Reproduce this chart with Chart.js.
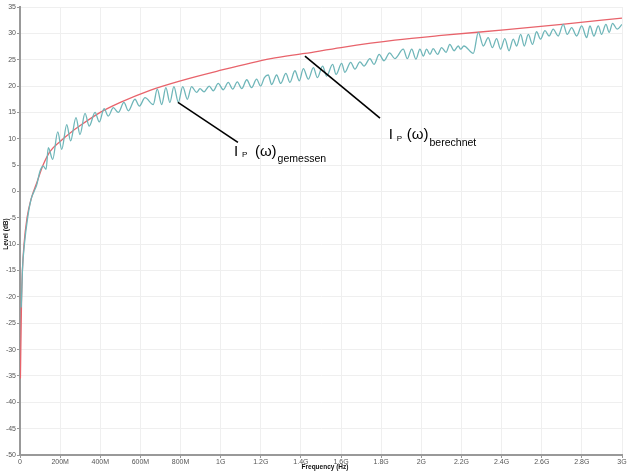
<!DOCTYPE html>
<html>
<head>
<meta charset="utf-8">
<script src="https://cdn.jsdelivr.net/npm/chart.js@4.4.0/dist/chart.umd.min.js"></script>
<style>
  html, body { margin: 0; padding: 0; background: #fff; }
</style>
</head>
<body>
<canvas id="chart" width="632" height="472"></canvas>
<script>
'use strict';

// ─── Data (frequency in MHz, level in dB) ─────────────────────────────────────

const calcFreq  = [2, 4, 6, 8, 12, 20, 35, 55, 85, 115, 150, 200, 250, 300, 400, 500, 648, 800, 980, 1250, 1420, 1600, 1868, 2100, 2425, 2700, 3000];
const calcLevel = [-35.5, -30, -25, -20, -15, -10, -5, -1.5, 1.8, 5.0, 7.6, 9.5, 11.1, 12.5, 15.0, 16.9, 19.2, 21.0, 22.8, 25.2, 26.2, 27.3, 28.7, 29.6, 30.7, 31.7, 32.9];

const measFreq = [
  6, 8, 12, 22, 38, 55, 70, 83, 100, 116, 130,
  141, 163, 188, 208, 233, 252, 279, 299, 324, 345, 374, 395, 419, 440, 465, 490, 518, 540, 573, 595, 623,
  664, 684, 706, 727, 747, 767, 789, 811, 834, 855, 880, 897, 917, 943, 963, 988, 1013, 1038, 1060, 1083,
  1105, 1130, 1154, 1179, 1199, 1218, 1237, 1254, 1279, 1299, 1325, 1345, 1370, 1392, 1412, 1437, 1462,
  1482, 1508, 1528, 1558, 1575, 1603, 1619, 1648, 1669, 1694, 1714, 1744, 1764, 1790, 1814, 1842, 1868,
  1910, 1930, 1952, 1973, 1993, 2010, 2026, 2043, 2059, 2081, 2101, 2123, 2142, 2163, 2184, 2196, 2212,
  2259, 2284, 2309, 2333, 2354, 2375, 2395, 2416, 2437, 2458, 2475, 2495, 2513, 2533, 2554, 2574, 2594,
  2616, 2637, 2657, 2682, 2707, 2727, 2749, 2774, 2799, 2824, 2840, 2860, 2882, 2898, 2920, 2936, 2953,
  2976, 3000
];
const measLevel = [
  -22, -20, -15, -10, -5, -1.5, 0, 1.2, 3.9, 4.8, 4.2,
  8.3, 6.1, 11.3, 8.0, 12.7, 9.6, 14.0, 10.8, 14.8, 12.4, 15.0, 13.2, 15.7, 14.3, 15.9, 15.0, 16.9, 15.3, 17.5, 16.2, 17.8,
  16.5, 19.4, 16.5, 19.7, 16.9, 19.9, 16.9, 19.9, 17.5, 19.9, 18.8, 19.5, 18.9, 20.0, 19.1, 20.5, 19.3, 20.7, 19.4, 20.8,
  19.5, 21.2, 19.7, 21.3, 20.0, 21.6, 22.1, 20.3, 22.1, 20.5, 22.4, 20.7, 22.9, 21.0, 23.3, 21.3, 23.5,
  21.6, 23.8, 21.9, 24.1, 22.2, 24.3, 22.6, 24.5, 23.2, 24.6, 23.8, 25.2, 24.1, 26.0, 24.8, 26.3, 25.2,
  27.0, 25.2, 27.0, 25.1, 27.0, 25.7, 27.0, 26.0, 27.1, 26.0, 27.3, 26.4, 27.9, 26.7, 27.6, 27.0, 27.6,
  26.2, 30.2, 27.6, 29.2, 27.3, 29.0, 27.0, 29.0, 26.7, 28.9, 27.6, 29.8, 27.6, 29.8, 27.9, 30.3, 28.9,
  30.5, 29.5, 30.8, 29.5, 31.7, 29.8, 31.1, 29.5, 31.4, 29.2, 31.4, 29.5, 31.4, 29.8, 31.7, 30.2, 31.9,
  30.8, 31.7
];

const xTickLabels = ['0', '200M', '400M', '600M', '800M', '1G', '1.2G', '1.4G', '1.6G', '1.8G', '2G', '2.2G', '2.4G', '2.6G', '2.8G', '3G'];
const xStep = 200;
const yMin = -50, yMax = 35, yStep = 5;

// annotation anchors in data units [MHz, dB]
const notes = [
  { from: [787, 16.9],  to: [1086, 9.3],  at: [1071, 6.8], gap: 20, sub: 'gemessen' },
  { from: [1420, 25.7], to: [1794, 13.9], at: [1843, 9.9], gap: 17, sub: 'berechnet' },
];

const FONT = '"Liberation Sans", Arial, sans-serif';

// ─── Overlay: axis titles + annotations ───────────────────────────────────────

const overlay = {
  id: 'overlay',
  afterDraw(chart) {
    const { ctx, chartArea: area, scales: { x, y } } = chart;
    ctx.save();
    ctx.fillStyle = '#111';
    ctx.font = `bold 6.5px ${FONT}`;
    ctx.textAlign = 'center';
    ctx.textBaseline = 'middle';
    ctx.fillText('Frequency (Hz)', (area.left + area.right) / 2 + 4, area.bottom + 12.5);
    ctx.translate(6, (area.top + area.bottom) / 2 + 3);
    ctx.rotate(-Math.PI / 2);
    ctx.fillText('Level (dB)', 0, 0);
    ctx.restore();

    ctx.save();
    notes.forEach(n => {
      ctx.strokeStyle = '#000';
      ctx.lineWidth = 1.6;
      ctx.beginPath();
      ctx.moveTo(x.getPixelForValue(n.from[0]), y.getPixelForValue(n.from[1]));
      ctx.lineTo(x.getPixelForValue(n.to[0]), y.getPixelForValue(n.to[1]));
      ctx.stroke();

      const px = x.getPixelForValue(n.at[0]);
      const py = y.getPixelForValue(n.at[1]);
      ctx.fillStyle = '#000';
      ctx.textAlign = 'left';
      ctx.textBaseline = 'alphabetic';
      ctx.font = `15px ${FONT}`;
      ctx.fillText('I', px - 1, py);
      ctx.font = `8px ${FONT}`;
      ctx.fillText('P', px + 7, py + 1.5);
      ctx.font = `15px ${FONT}`;
      ctx.fillText('(ω)', px + n.gap, py);
      const w = ctx.measureText('(ω)').width;
      ctx.font = `10.5px ${FONT}`;
      ctx.fillText(n.sub, px + n.gap + w + 1, py + 6.5);
    });
    ctx.restore();
  },
};

// ─── Chart ────────────────────────────────────────────────────────────────────

const toPoints = (xs, ys) => xs.map((f, i) => ({ x: f, y: ys[i] }));

new Chart(document.getElementById('chart'), {
  type: 'line',
  data: {
    datasets: [
      {
        label: 'gemessen',
        data: toPoints(measFreq, measLevel),
        borderColor: '#6fb6b9',
        borderWidth: 1.3,
        pointRadius: 0,
        cubicInterpolationMode: 'monotone',
      },
      {
        label: 'berechnet',
        data: toPoints(calcFreq, calcLevel),
        borderColor: '#e8636b',
        borderWidth: 1.3,
        pointRadius: 0,
        cubicInterpolationMode: 'monotone',
      },
    ],
  },
  options: {
    responsive: false,
    animation: false,
    layout: { padding: { top: 7, right: 10, left: 0, bottom: 0 } },
    plugins: { legend: { display: false }, tooltip: { enabled: false } },
    scales: {
      x: {
        type: 'linear',
        min: 0,
        max: 3000,
        afterFit: (s) => { s.height = 17; },
        afterBuildTicks: (s) => { s.ticks = xTickLabels.map((_, i) => ({ value: i * xStep })); },
        grid: { color: '#efefef', tickLength: 3, tickColor: '#999' },
        border: { color: '#999', width: 2 },
        ticks: {
          color: '#555',
          font: { size: 7, family: FONT },
          padding: 0,
          maxRotation: 0,
          autoSkip: false,
          callback: (v) => xTickLabels[Math.round(v / xStep)],
        },
      },
      y: {
        min: yMin,
        max: yMax,
        afterFit: (s) => { s.width = 20; },
        grid: { color: '#efefef', tickLength: 3, tickColor: '#999' },
        border: { color: '#999', width: 2 },
        ticks: {
          stepSize: yStep,
          color: '#555',
          font: { size: 7, family: FONT },
          padding: 1,
        },
      },
    },
  },
  plugins: [overlay],
});
</script>
</body>
</html>
